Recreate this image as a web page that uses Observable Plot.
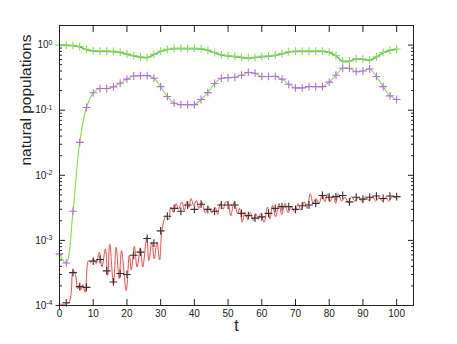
<!DOCTYPE html>
<html><head><meta charset="utf-8">
<script src="https://cdn.jsdelivr.net/npm/d3@7"></script>
<script src="https://cdn.jsdelivr.net/npm/@observablehq/plot@0.6"></script>
<style>body{margin:0;background:#fff;}</style>
</head><body><div id="chart"></div>
<script>
// sampled times of the marker series
const tMarks = [0,2,4,6,8,10,12,14,16,18,20,22,24,26,28,30,32,34,36,38,40,42,44,46,48,50,
  52,54,56,58,60,62,64,66,68,70,72,74,76,78,80,82,84,86,88,90,92,94,96,98,100];
// top population (green + markers, blue/green lines)
const topVals = [1.0,1.0,0.99,0.95,0.86,0.82,0.81,0.81,0.80,0.78,0.73,0.69,0.66,0.65,0.72,0.81,0.86,0.89,0.89,0.89,0.89,0.88,0.84,0.77,0.71,0.69,
  0.67,0.65,0.64,0.65,0.67,0.68,0.70,0.74,0.79,0.81,0.81,0.81,0.81,0.81,0.78,0.69,0.57,0.57,0.62,0.61,0.59,0.66,0.77,0.84,0.87];
// second population (purple + markers, green line)
const purpleVals = [6.2e-4,4.5e-4,2.8e-3,0.032,0.11,0.185,0.215,0.215,0.228,0.26,0.30,0.335,0.34,0.34,0.31,0.23,0.162,0.128,0.122,0.122,0.122,0.146,0.186,0.257,0.31,0.315,
  0.32,0.345,0.38,0.37,0.33,0.33,0.33,0.30,0.25,0.22,0.22,0.23,0.23,0.23,0.27,0.345,0.44,0.44,0.39,0.40,0.43,0.33,0.23,0.166,0.146];
// third population (black + markers)
const blackVals = [1.0e-4,1.1e-4,3.2e-4,1.95e-4,1.9e-4,4.8e-4,5.1e-4,3.4e-4,2.3e-4,3.1e-4,3.0e-4,5.9e-4,6.6e-4,1.07e-3,9.1e-4,1.4e-3,2.35e-3,3.1e-3,2.8e-3,3.5e-3,3.0e-3,3.6e-3,3.0e-3,2.8e-3,3.5e-3,3.5e-3,
  3.5e-3,2.6e-3,2.4e-3,2.2e-3,2.3e-3,2.6e-3,3.1e-3,3.3e-3,3.3e-3,3.0e-3,3.4e-3,3.5e-3,3.7e-3,4.9e-3,4.6e-3,4.7e-3,4.9e-3,3.9e-3,4.6e-3,4.3e-3,4.6e-3,4.8e-3,4.4e-3,4.8e-3,4.7e-3];
// red oscillating trace (read at its turning points)
const redT = [0,2.7,4.0,4.7,5.4,5.9,6.4,6.9,7.6,8.6,9.3,10.1,10.9,11.8,12.6,13.6,14.3,14.9,16.0,16.8,17.7,18.4,19.8,20.7,21.3,22.2,23.0,24.0,24.7,25.9,26.5,27.4,28.1,28.9,29.7,
  30.4,31.6,32.4,33.0,33.8,34.6,35.3,36.3,37.0,37.8,38.4,39.0,39.8,40.6,41.3,42.2,43.2,44.2,45.2,46.2,46.9,47.7,48.5,49.3,
  50.0,50.8,51.8,52.8,53.4,54.2,55.0,55.8,56.6,57.5,58.2,59.0,59.7,60.7,61.7,62.4,63.2,64.1,65.1,65.9,66.9,67.8,68.8,69.8,70.8,71.6,72.6,73.4,74.4,75.2,76.0,77.0,77.9,78.7,79.5,
  80.2,81.2,81.9,82.7,83.7,84.7,85.7,86.6,87.6,88.8,89.8,90.8,91.8,92.8,93.8,94.8,95.8,96.7,97.7,98.7,100.0];
const redV = [1.05e-4,1.1e-4,3.5e-4,3.0e-4,1.8e-4,2.1e-4,1.75e-4,2.1e-4,1.6e-4,4.9e-4,4.6e-4,5.2e-4,4.4e-4,6.6e-4,3.9e-4,7.4e-4,2.9e-4,8.7e-4,2.15e-4,7.9e-4,2.6e-4,7.0e-4,1.7e-4,5.9e-4,3.5e-4,8.1e-4,3.9e-4,7.7e-4,3.9e-4,1.13e-3,4.9e-4,9.4e-4,5.2e-4,9.4e-4,5.0e-4,
  1.43e-3,2.4e-3,2.1e-3,3.25e-3,2.7e-3,3.7e-3,3.0e-3,3.9e-3,2.9e-3,4.0e-3,3.2e-3,4.4e-3,3.45e-3,4.1e-3,3.1e-3,3.9e-3,2.65e-3,3.3e-3,2.65e-3,3.2e-3,2.5e-3,3.7e-3,3.0e-3,3.9e-3,
  3.7e-3,2.4e-3,3.9e-3,2.6e-3,3.1e-3,1.9e-3,2.7e-3,2.1e-3,2.7e-3,2.0e-3,2.6e-3,2.1e-3,2.6e-3,1.9e-3,3.25e-3,2.15e-3,3.45e-3,2.3e-3,3.7e-3,2.5e-3,3.7e-3,2.65e-3,3.3e-3,2.7e-3,3.7e-3,2.9e-3,3.9e-3,3.1e-3,5.2e-3,3.7e-3,4.4e-3,3.7e-3,5.1e-3,3.9e-3,5.2e-3,
  3.9e-3,4.9e-3,3.7e-3,5.2e-3,4.0e-3,4.6e-3,3.8e-3,4.7e-3,4.0e-3,4.6e-3,3.9e-3,4.7e-3,4.1e-3,4.7e-3,4.0e-3,4.6e-3,4.0e-3,4.6e-3,4.0e-3,4.7e-3,4.4e-3];
// axis ticks
const xTicks = [0,10,20,30,40,50,60,70,80,90,100];
const yMajor = [1e-4,1e-3,1e-2,1e-1,1];
const yMinor = [2e-4,3e-4,4e-4,5e-4,6e-4,7e-4,8e-4,9e-4,2e-3,3e-3,4e-3,5e-3,6e-3,7e-3,8e-3,9e-3,
  2e-2,3e-2,4e-2,5e-2,6e-2,7e-2,8e-2,9e-2,0.2,0.3,0.4,0.5,0.6,0.7,0.8,0.9];

const topData = tMarks.map((t,i)=>({t, v: topVals[i]}));
const purpleData = tMarks.map((t,i)=>({t, v: purpleVals[i]}));
const blackData = tMarks.map((t,i)=>({t, v: blackVals[i]}));
const redData = redT.map((t,i)=>({t, v: redV[i]}));

const plus = {draw(ctx, size){ const r = Math.sqrt(size/Math.PI); ctx.moveTo(-r,0); ctx.lineTo(r,0); ctx.moveTo(0,-r); ctx.lineTo(0,r); }};
const green = "#86e04a", blue = "#4f7fe6", purple = "#b46ee8", red = "#ff4a4a", dark = "#222";
const blank = () => "";

const chart = Plot.plot({
  width: 457, height: 344,
  marginLeft: 59, marginRight: 44, marginTop: 25, marginBottom: 39,
  style: {fontFamily: "'Liberation Sans', Arial, sans-serif", fontSize: "10px", color: "#222", background: "#fff"},
  x: {domain: [0, 105]},
  y: {type: "log", domain: [1e-4, 2]},
  marks: [
    Plot.axisX(xTicks, {anchor: "bottom", tickSize: -6, tickPadding: 10, label: null, stroke: dark}),
    Plot.axisX(xTicks, {anchor: "top", tickSize: -6, tickFormat: blank, label: null, stroke: dark}),
    Plot.axisY(yMajor, {anchor: "left", tickSize: -6, tickPadding: 13, label: null, stroke: dark,
      tickFormat: d => "10^" + Math.round(Math.log10(d))}),
    Plot.axisY(yMinor, {anchor: "left", tickSize: -3, tickFormat: blank, label: null, stroke: dark}),
    Plot.axisY(yMajor, {anchor: "right", tickSize: -6, tickFormat: blank, label: null, stroke: dark}),
    Plot.axisY(yMinor, {anchor: "right", tickSize: -3, tickFormat: blank, label: null, stroke: dark}),
    Plot.line(purpleData, {x: "t", y: "v", stroke: green, strokeWidth: 1.1, curve: "catmull-rom"}),
    Plot.dot(purpleData, {x: "t", y: "v", symbol: plus, r: 3.9, stroke: purple, strokeWidth: 1.1, fill: "none"}),
    Plot.line(topData, {x: "t", y: "v", stroke: green, strokeWidth: 1.3, curve: "catmull-rom"}),
    Plot.line(topData, {x: "t", y: "v", stroke: blue, strokeWidth: 0.9, dy: 0.6, curve: "catmull-rom"}),
    Plot.dot(topData, {x: "t", y: "v", symbol: plus, r: 3.9, stroke: green, strokeWidth: 1.1, fill: "none"}),
    Plot.line(redData, {x: "t", y: "v", stroke: red, strokeWidth: 1, curve: "catmull-rom"}),
    Plot.dot(blackData, {x: "t", y: "v", symbol: plus, r: 3.9, stroke: "#333", strokeWidth: 1.1, fill: "none"}),
    Plot.frame({stroke: dark}),
    Plot.text(["t"], {frameAnchor: "bottom", dy: 25, fontSize: 16, fill: "#222"}),
    Plot.text(["natural populations"], {frameAnchor: "left", dx: -33, rotate: -90, fontSize: 15.5, fill: "#222"})
  ]
});

const svgNS = "http://www.w3.org/2000/svg";
chart.querySelectorAll('g[aria-label^="y-axis tick label"] text').forEach(el => {
  const m = (el.textContent || "").match(/^10\^(.+)$/);
  if (m) {
    el.textContent = "10";
    const ts = document.createElementNS(svgNS, "tspan");
    ts.setAttribute("dy", "-0.5em");
    ts.setAttribute("font-size", "7");
    ts.textContent = m[1];
    el.appendChild(ts);
  }
});
document.getElementById("chart").appendChild(chart);
</script>
</body></html>
